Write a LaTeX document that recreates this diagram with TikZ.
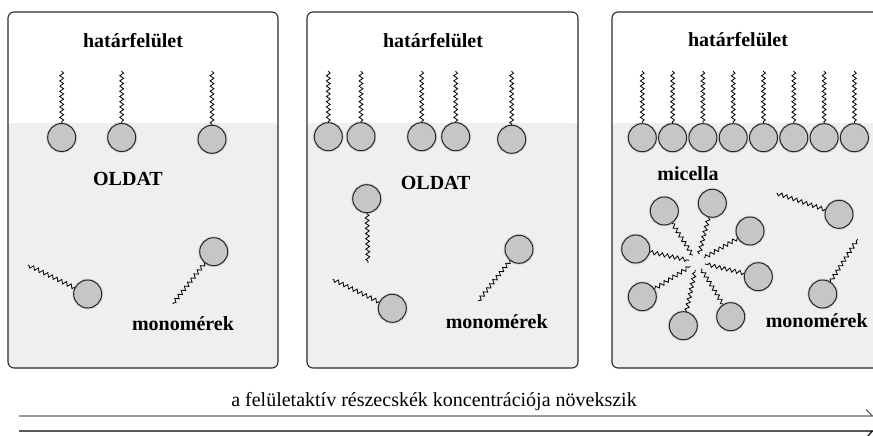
\documentclass[tikz,border=0pt]{standalone}
\usepackage{fontspec}
\setmainfont{Liberation Serif}
\usetikzlibrary{decorations.pathmorphing,calc}
\definecolor{molgray}{HTML}{C6C6C6}
\definecolor{solgray}{HTML}{EFEFEF}
\definecolor{edge}{HTML}{2A2A2A}
\tikzset{
  mol/.style={circle, draw=black!85, line width=1pt, fill=molgray, minimum size=28pt, inner sep=0pt,
    preaction={draw=black!18, line width=2.8pt}},
  tail/.style={decorate, decoration={snake, amplitude=1.9pt, segment length=5.2pt, pre length=0.5pt, post length=0.5pt}, line width=0.8pt, black},
  panel/.style={draw=edge, line width=1.1pt, rounded corners=6pt},
  lbl/.style={font=\fontsize{20}{22}\selectfont\bfseries, anchor=base, inner sep=0pt},
  captxt/.style={font=\fontsize{20}{22}\selectfont, anchor=base, inner sep=0pt}
}
\newcommand\surfmol[3]{\node[mol] (#1) at (#2,#3) {}; \coordinate (#1t) at (#2,71); \draw[tail] (#1t) -- (#1.north);}
\begin{document}
\begin{tikzpicture}[x=1pt,y=-1pt]
\useasboundingbox (0,0) rectangle (873,436);
\clip (0,0) rectangle (873,436);
% panels
\foreach \xa/\xb in {8/278, 307/578, 612/890} {
  \begin{scope}
    \clip[rounded corners=6pt] (\xa,12) rectangle (\xb,368);
    \fill[solgray, rounded corners=4pt] (\xa,123) rectangle (\xb,380);
  \end{scope}
  \draw[panel] (\xa,12) rectangle (\xb,368);
}
% panel 1
\node[lbl] (h1) at (133,48) {határfelület};
\node[lbl] (o1) at (128,185) {OLDAT};
\node[lbl] (mo1) at (183,330) {monomérek};
\surfmol{a1}{61.7}{137.5}
\surfmol{a2}{121.7}{137.5}
\surfmol{a3}{212}{139.3}
\node[mol] (b1) at (87.7,294) {}; \coordinate (b1t) at (27.7,265); \draw[tail] (b1) -- (b1t);
\node[mol] (b2) at (213.7,251.7) {}; \coordinate (b2t) at (172.7,304); \draw[tail] (b2) -- (b2t);
% panel 2
\node[lbl] (h2) at (433,48) {határfelület};
\node[lbl] (o2) at (435.7,189) {OLDAT};
\node[lbl] (mo2) at (496.7,328) {monomérek};
\surfmol{c1}{328.3}{136.7}
\surfmol{c2}{361}{136.7}
\surfmol{c3}{421.7}{136.7}
\surfmol{c4}{455.7}{136.7}
\surfmol{c5}{511.7}{139.3}
\node[mol] (d1) at (366.7,198.7) {}; \coordinate (d1t) at (368,263); \draw[tail] (d1) -- (d1t);
\node[mol] (d2) at (392.3,308.3) {}; \coordinate (d2t) at (332.7,279.3); \draw[tail] (d2) -- (d2t);
\node[mol] (d3) at (519,249.3) {}; \coordinate (d3t) at (478.3,301); \draw[tail] (d3) -- (d3t);
% panel 3
\node[lbl] (h3) at (738,47) {határfelület};
\node[lbl] (mi3) at (688,180) {micella};
\node[lbl] (mo3) at (816.7,327) {monomérek};
\surfmol{e1}{642.3}{137.7}
\surfmol{e2}{672.6}{137.7}
\surfmol{e3}{702.9}{137.7}
\surfmol{e4}{733.2}{137.7}
\surfmol{e5}{763.5}{137.7}
\surfmol{e6}{793.8}{137.7}
\surfmol{e7}{824.1}{137.7}
\surfmol{e8}{854.4}{137.7}
\coordinate (mc) at (697,262);
\foreach \n/\x/\y in {1/664.3/211, 2/712.3/203.3, 3/750/231, 4/635.7/249, 5/758.3/276.7, 6/642.3/296.7, 7/730.7/316.7, 8/683.3/325.7} {
  \node[mol] (f\n) at (\x,\y) {};
  \coordinate (f\n t) at ($(mc)!8pt!(f\n)$);
  \draw[tail] (f\n) -- (f\n t);
}
\node[mol] (g1) at (839,214.3) {}; \coordinate (g1t) at (776.7,193.3); \draw[tail] (g1) -- (g1t);
\node[mol] (g2) at (822.7,294) {}; \coordinate (g2t) at (857.7,239); \draw[tail] (g2) -- (g2t);
% bottom arrow
\node[captxt] (captext) at (434,406) {a felületaktív részecskék koncentrációja növekszik};
\coordinate (l1s) at (19,416); \coordinate (l1e) at (872.5,416); \coordinate (l1h) at (866,409.5);
\coordinate (l2s) at (19,431); \coordinate (l2e) at (872.5,431); \coordinate (l2h) at (867,437);
\draw[line width=1.1pt, black!60] (l1s) -- (l1e) -- (l1h);
\draw[line width=1.1pt, black] (l2s) -- (l2e) -- (l2h);
\end{tikzpicture}
\end{document}
